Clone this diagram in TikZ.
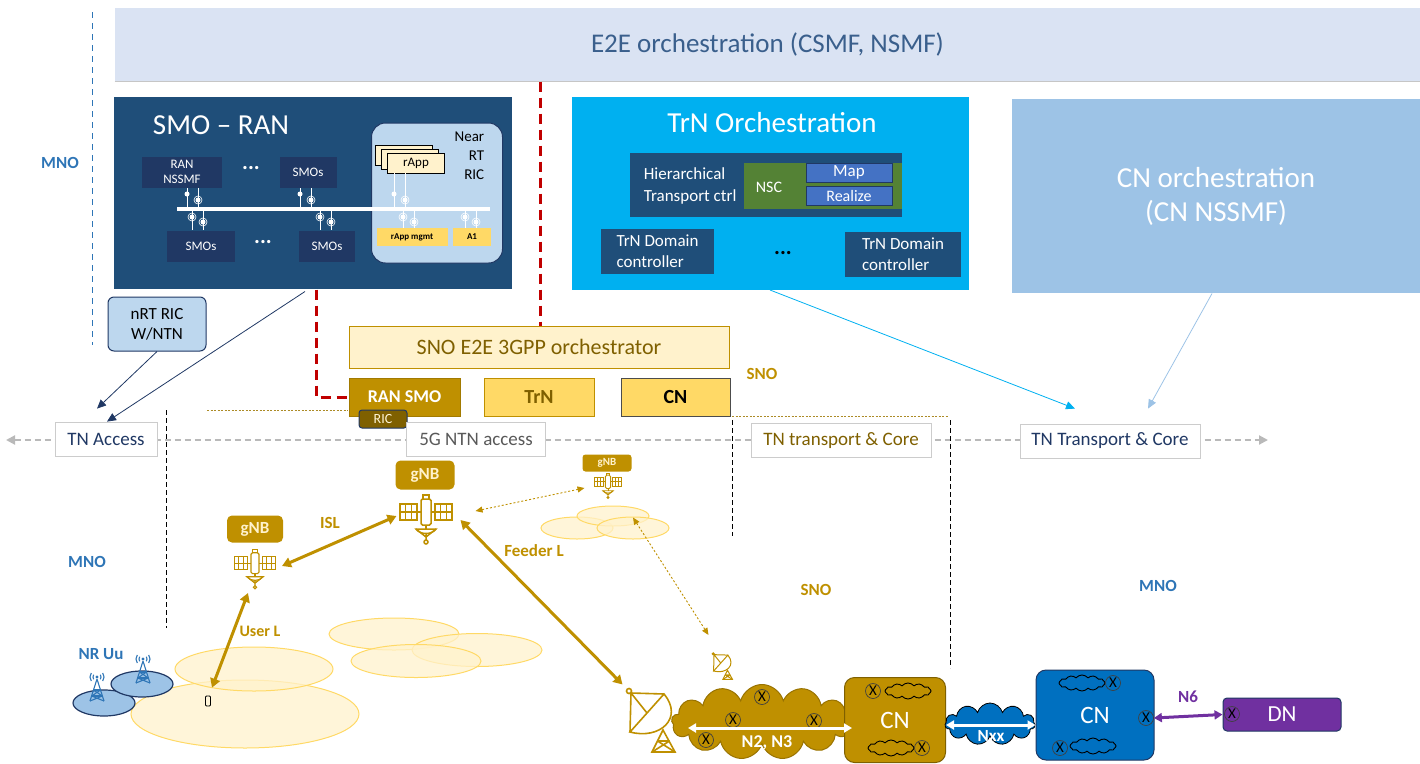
\documentclass[tikz,border=0pt]{standalone}
\usepackage{fontspec}
\setmainfont{Carlito}
\usepackage{tikz}
\usetikzlibrary{arrows.meta,positioning,calc,shapes.geometric,shapes.symbols}

\definecolor{e2ebg}{HTML}{DAE3F3}
\definecolor{e2etext}{HTML}{3A5F8C}
\definecolor{smobg}{HTML}{1F4E79}
\definecolor{smocell}{HTML}{203864}
\definecolor{ricbg}{HTML}{BDD7EE}
\definecolor{trnbg}{HTML}{00B0F0}
\definecolor{cnorchbg}{HTML}{9DC3E6}
\definecolor{gold}{HTML}{BF9000}
\definecolor{palegold}{HTML}{FFF2CC}
\definecolor{midgold}{HTML}{FFD966}
\definecolor{darkgold}{HTML}{7F6000}
\definecolor{mnoblue}{HTML}{2E75B6}
\definecolor{nscgreen}{HTML}{548235}
\definecolor{mapblue}{HTML}{4472C4}
\definecolor{cnblue}{HTML}{0070C0}
\definecolor{dnpurple}{HTML}{7030A0}
\definecolor{sigred}{HTML}{C00000}
\definecolor{navy}{HTML}{203864}

\tikzset{
  fs/.style 2 args={font=\fontsize{#1}{#2}\selectfont},
  fsb/.style 2 args={font=\fontsize{#1}{#2}\selectfont\bfseries},
  plain/.style={rectangle, inner sep=0pt, align=center},
  e2eband/.style={plain, fill=e2ebg, text=e2etext, fs={27}{30}},
  panel/.style={plain, fill=smobg, text=white},
  cell/.style={plain, fill=smocell, text=white, fs={13}{15}, minimum height=31},
  rappbox/.style={plain, fill=palegold, draw=black, line width=1pt, minimum width=57, minimum height=20, fs={13}{13}},
  ricitem/.style={plain, fill=midgold, fsb={9}{9}, minimum height=18},
  ctrlbox/.style={plain, fill=smobg, text=white, fs={17}{21}, align=left, minimum height=45},
  nscitem/.style={plain, fill=mapblue, draw=smocell, line width=1pt, text=white, minimum width=86, minimum height=19},
  snobox/.style={plain, minimum width=110, minimum height=38, line width=1pt},
  tnbox/.style={plain, fill=white, draw=gray!40, line width=0.8pt, minimum height=34, fs={19}{19}},
  domlabel/.style={fsb={17}{17}},
  dotsep/.style={fsb={22}{22}},
  footprint/.style={ellipse, inner sep=0pt, draw=midgold, line width=1pt, fill=palegold, fill opacity=0.75},
  cellzone/.style={ellipse, inner sep=0pt, draw=navy, line width=1.2pt, fill=cnorchbg},
  gnbtag/.style={plain, rounded corners=5, fill=gold, text=palegold},
  spot/.style={plain},
  xmark/.style={circle, draw=black!75, line width=0.7pt, inner sep=0pt, minimum size=15, fs={15}{15}},
  puff/.style={cloud, cloud puffs=12, cloud puff arc=100, aspect=3, draw=black, line width=0.9pt, inner sep=0pt, minimum width=46, minimum height=16},
  goldlink/.style={draw=gold, line width=3pt, <->, >={Triangle[length=9pt,width=10pt]}},
  golddots/.style={draw=gold, line width=0.9pt, dash pattern=on 2pt off 2pt, <->, >={Triangle[length=7pt,width=6pt]}},
  whitelink/.style={draw=white, line width=3pt, <->, >={Triangle[length=8pt,width=9pt]}},
  purplelink/.style={draw=dnpurple, line width=3pt, <->, >={Triangle[length=8pt,width=9pt]}},
  reddash/.style={draw=sigred, line width=3pt, dash pattern=on 10pt off 6pt},
  tnline/.style={draw=gray!55, line width=2pt, dash pattern=on 6pt off 4pt, <->, >={Triangle[length=9pt,width=9pt]}},
  sepline/.style={draw=black, line width=1pt, dash pattern=on 5pt off 3pt},
  golddotline/.style={draw=gold!70!gray, line width=0.8pt, dash pattern=on 2pt off 1.5pt},
  navyarrow/.style={draw=navy, line width=0.8pt, -{Triangle[length=9pt,width=8pt]}},
  sat/.pic={
    \draw[rounded corners=1.5pt] (-5,-19) rectangle (5,7);
    \draw (-3,-19) -- (-3,-23) -- (3,-23) -- (3,-19);
    \foreach \s in {-1,1} {
      \draw (\s*9,-14) rectangle (\s*26,2);
      \draw (\s*14.7,-14) -- (\s*14.7,2) (\s*20.3,-14) -- (\s*20.3,2) (\s*9,-6) -- (\s*26,-6);
      \draw (\s*5,-6) -- (\s*9,-6);
    }
    \draw (0,7) -- (0,11);
    \draw (-10,11) .. controls (-6,17) and (6,17) .. (10,11) -- cycle;
    \draw (-10,11) -- (0,19) -- (10,11) (0,15) -- (0,22);
    \draw (0,24) circle (2pt);
  },
  dish/.pic={
    \draw (14,-26) .. controls (34,-2) and (10,20) .. (-20,12) -- cycle;
    \draw (-19,-27) -- (14,-26) (-19,-27) -- (-20,12) (-19,-27) -- (-3,-7);
    \draw (-21,-29) circle (2.5pt);
    \draw (13,10) -- (2,32) -- (25,32) -- cycle;
    \draw (7.5,21) -- (19.5,21) (7.5,21) -- (25,32) (19.5,21) -- (2,32);
  },
  tower/.pic={
    \draw (0,-8) -- (-7,14) (0,-8) -- (7,14);
    \draw (-3.5,3) -- (3.5,3) (-5.3,9) -- (5.3,9);
    \draw (-3.5,3) -- (5.3,9) (3.5,3) -- (-5.3,9);
    \draw (-5.3,9) -- (7,14) (5.3,9) -- (-7,14);
    \fill (0,-10) circle (1.6pt);
    \foreach \r in {4,7} {
      \draw (0,-10) ++(145:\r) arc (145:215:\r);
      \draw (0,-10) ++(35:\r) arc (35:-35:\r);
    }
  }
}

\begin{document}
\begin{tikzpicture}[x=1pt, y=-1pt, line width=1pt]
\useasboundingbox (0,0) rectangle (1420,763);

% top band
\node[e2eband, minimum width=1305, minimum height=73] (e2e) at (767.5,44.5) {E2E orchestration (CSMF, NSMF)};
\draw[gray!45, line width=1.5pt] (e2e.south west) -- (e2e.south east);
\draw[mnoblue, line width=1pt, dash pattern=on 6pt off 5pt] (92,12) -- (92,345);

% SMO - RAN
\node[panel, minimum width=398, minimum height=192] (smoran) at (313,193) {};
\node[fs={29}{32}, text=white] (smotitle) at (221,125) {SMO -- RAN};
\node[cell, minimum width=80] (ranssmf) at (182,172) {RAN\\NSSMF};
\node[cell, minimum width=57] (smotop) at (308,172) {SMOs};
\node[cell, minimum width=68] (smobot1) at (201,246) {SMOs};
\node[cell, minimum width=56] (smobot2) at (327,246) {SMOs};
\node[dotsep, text=white] (dots1) at (251,168) {...};
\node[dotsep, text=white] (dots2) at (263,242) {...};
\node[plain, rounded corners=14, fill=ricbg, draw=smocell, minimum width=131, minimum height=140] (nearric) at (437,193) {};
\node[anchor=north east, align=right, fs={15}{19}] (nearlbl) at (488,128) {Near\\RT\\RIC};
\foreach \k in {2,1} {
  \node[rappbox] (rapp\k) at (416-5.8*\k,163-3.8*\k) {};
}
\node[rappbox] (rapp) at (416,163) {rApp};
\node[ricitem, minimum width=71] (rappmgmt) at (412,237) {rApp mgmt};
\node[ricitem, minimum width=38] (aone) at (472,237) {A1};
\draw[white, line width=4pt] (177,209) -- (490,209);
\foreach \px/\py in {187/188, 300/188, 394/173} {
  \draw[white, line width=0.8pt] (\px,\py) -- (\px,207) (\px+11,\py) -- (\px+11,207);
  \fill[white] (\px,194) circle (2.5pt) (\px+11,200) circle (2.5pt);
  \draw[white, line width=0.6pt] (\px+11,200) circle (4pt);
}
\foreach \px/\py in {192/230, 320/230, 403/228, 465/228} {
  \draw[white, line width=0.8pt] (\px,211) -- (\px,\py) (\px+11,211) -- (\px+11,\py);
  \fill[white] (\px,217) circle (2.5pt) (\px+11,222) circle (2.5pt);
  \draw[white, line width=0.6pt] (\px,217) circle (4pt) (\px+11,222) circle (4pt);
}

% TrN orchestration
\node[plain, fill=trnbg, minimum width=397, minimum height=193] (trnorch) at (770,193) {};
\node[fs={29}{32}, text=white] (trntitle) at (772,123) {TrN Orchestration};
\node[plain, fill=smobg, minimum width=272, minimum height=64] (hier) at (766,185) {};
\node[anchor=west, align=left, text=white, fs={17}{22}] (hiertext) at (640,186) {Hierarchical\\Transport ctrl};
\node[plain, fill=nscgreen, minimum width=158, minimum height=46] (nsc) at (823,186) {};
\node[text=white, fs={16}{16}] (nsctext) at (769,187) {NSC};
\node[nscitem, fs={17}{17}] (map) at (849,172.5) {Map};
\node[nscitem, fs={16}{16}] (realize) at (849,196) {Realize};
\node[ctrlbox, minimum width=113] (dom1) at (657.5,251.5) {TrN Domain\\controller};
\node[ctrlbox, minimum width=116] (dom2) at (903,254.5) {TrN Domain\\controller};
\node[dotsep, text=black] (dots3) at (783,253) {...};

% CN orchestration
\node[plain, fill=cnorchbg, text=white, fs={29}{34}, minimum width=408, minimum height=194] (cnorch) at (1216,196) {CN orchestration\\(CN NSSMF)};

% domain labels
\node[domlabel, text=mnoblue] (mno1) at (60,163) {MNO};
\node[domlabel, text=mnoblue] (mno2) at (87,562) {MNO};
\node[domlabel, text=mnoblue] (mno3) at (1158,586) {MNO};
\node[domlabel, text=gold] (sno1) at (762,374) {SNO};
\node[domlabel, text=gold] (sno2) at (816,590) {SNO};

\node[plain, rounded corners=6, fill=ricbg, draw=navy, minimum width=98, minimum height=54, fs={17}{20}] (nrtric) at (157,324) {nRT RIC\\W/NTN};

% SNO orchestrator
\node[plain, fill=palegold, draw=gold, text=darkgold, minimum width=380, minimum height=42, fs={22}{22}] (sno) at (539,347) {SNO E2E 3GPP orchestrator};
\node[snobox, fill=gold, draw=gold!85!black, text=white, fsb={18}{18}, minimum width=111] (ransmo) at (404.5,397) {RAN SMO};
\node[plain, rounded corners=3, fill=darkgold, draw=smocell, text=palegold!80!white, minimum width=48, minimum height=18, fs={14}{14}] (ric) at (383,419) {RIC};
\node[snobox, fill=midgold, draw=gold, text=darkgold, fsb={20}{20}] (trn) at (539,397) {TrN};
\node[snobox, fill=midgold, draw=black!70, text=black, fsb={20}{20}, minimum width=109] (cn) at (675.5,397) {CN};

\coordinate (redx) at (540,0);
\draw[reddash] (e2e.south -| redx) -- (sno.north -| redx);
\draw[reddash] ([shift={(3,0)}]smoran.south) |- (ransmo.west);

% access / transport line
\coordinate (tnleft) at (6,440);
\coordinate (tnright) at (1268,440);
\draw[tnline] (tnleft) -- (tnright);
\draw[golddotline] (207,410) -- (348,410) (732,416) -- (948,416);
\draw[sepline] (166,410) -- (166,628);
\draw[sepline] (732,420) -- (732,536);
\draw[sepline] (950,420) -- (950,668);
\node[tnbox, minimum width=102, text=navy] (tnaccess) at (106,439) {TN Access};
\node[tnbox, minimum width=139, text=black!65] (ntnaccess) at (476,439) {5G NTN access};
\node[tnbox, minimum width=180, text=darkgold] (tntrans) at (841,440.5) {TN transport \& Core};
\node[tnbox, minimum width=180, text=navy] (tntranscore) at (1110,441) {TN Transport \& Core};

\draw[navyarrow] ([shift={(-8,2)}]smoran.south) -- ([shift={(1,0)}]tnaccess.north);
\draw[navyarrow] (nrtric.south) -- ([shift={(-9,-13)}]tnaccess.north);
\draw[navyarrow, draw=trnbg] (trnorch.south) -- ([shift={(-35,-15)}]tntranscore.north);
\draw[navyarrow, draw=cnorchbg] ([shift={(-4,0)}]cnorch.south) -- ([shift={(38,-15)}]tntranscore.north);

% footprints and cells
\node[footprint, minimum width=228, minimum height=68] (fpB) at (245,714) {};
\node[footprint, minimum width=158, minimum height=44] (fpA) at (254,669) {};
\node[footprint, minimum width=130, minimum height=32] (fpE) at (394,634) {};
\node[footprint, minimum width=130, minimum height=33] (fpF) at (477,650) {};
\node[footprint, minimum width=130, minimum height=33] (fpG) at (416,661) {};
\node[footprint, minimum width=72, minimum height=22] (fpH) at (577,528) {};
\node[footprint, minimum width=72, minimum height=20] (fpI) at (613,516) {};
\node[footprint, minimum width=72, minimum height=22] (fpJ) at (633,528) {};
\node[cellzone, minimum width=62, minimum height=26] (cellC) at (104,703) {};
\node[cellzone, minimum width=62, minimum height=26] (cellD) at (142,684) {};
\pic[mnoblue, line width=1.1pt] at (97,687) {tower};
\pic[mnoblue, line width=1.1pt] at (143,669) {tower};
\node[domlabel, text=mnoblue] (nruu) at (101,654) {NR Uu};
\node[plain, draw=black, rounded corners=1, line width=0.8pt, minimum width=5, minimum height=10] (phone) at (208,701) {};

% satellites
\node[spot, minimum width=54, minimum height=49] (satB) at (426,518) {};
\node[spot, minimum width=43, minimum height=39] (satL) at (255,568) {};
\node[spot, minimum width=28, minimum height=24] (satS) at (608,485) {};
\pic[gold, line width=1.5pt] at (satB) {sat};
\pic[gold, scale=0.8, line width=1.2pt] at (satL) {sat};
\pic[gold, scale=0.52, line width=0.9pt] at (satS) {sat};
\node[gnbtag, minimum width=59, minimum height=29, fsb={17}{17}] (gnbB) at (425,475) {gNB};
\node[gnbtag, minimum width=56, minimum height=27, fsb={17}{17}] (gnbL) at (255,529) {gNB};
\node[gnbtag, rounded corners=3, minimum width=49, minimum height=17, fsb={11}{11}] (gnbS) at (607,463) {gNB};

% ground stations
\node[spot, minimum width=46, minimum height=64] (dish) at (650,720) {};
\node[spot, minimum width=20, minimum height=27] (smalldish) at (722,666) {};
\pic[gold, line width=1.6pt] at (dish) {dish};
\pic[gold, scale=0.42, line width=1pt] at (smalldish) {dish};

% radio links
\draw[goldlink] ([shift={(5,-2)}]satL.east) -- ([shift={(-2,-2)}]satB.west);
\draw[goldlink] ([shift={(4,-8)}]phone.north) -- ([shift={(-7,5)}]satL.south);
\draw[goldlink] ([shift={(7,2)}]satB.east) -- ([shift={(-4,-3)}]dish.north west);
\draw[golddots] ([shift={(22,-7)}]satB.east) -- ([shift={(-9,3)}]satS.west);
\draw[golddots] ([shift={(0,1)}]fpJ.north) -- ([shift={(-3,-17)}]smalldish.north west);
\node[domlabel, text=gold] (isl) at (330,523) {ISL};
\node[domlabel, text=gold, fsb={16}{16}] (userl) at (260,631) {User L};
\node[domlabel, text=gold] (feederl) at (534,551) {Feeder L};

% core side
\node[cloud, cloud puffs=13, aspect=2.4, fill=gold, draw=gold!80!black, inner sep=0pt, minimum width=181, minimum height=75] (gcloud) at (762,722) {};
\node[xmark] (x1) at (762,697) {X};
\node[xmark] (x2) at (733,720) {X};
\node[xmark] (x3) at (814,721) {X};
\node[xmark] (x4) at (706,740) {X};
\node[plain, rounded corners=10, fill=gold, draw=darkgold, text=white, fs={25}{25}, minimum width=101, minimum height=85] (cngold) at (895,720) {CN};
\node[puff] (cl1) at (908,691) {};
\node[xmark] (x5) at (873,691) {X};
\node[puff] (cl2) at (891,748) {};
\node[xmark] (x6) at (922,748) {X};
\draw[whitelink] ([shift={(-74,6)}]gcloud.center) -- ([shift={(8,8)}]cngold.west);
\node[text=white, fsb={18}{18}] (n23) at (767,743) {N2, N3};

\node[cloud, cloud puffs=11, aspect=2, fill=cnblue, draw=black, line width=0.8pt, inner sep=0pt, minimum width=90, minimum height=42] (nxx) at (990,724) {};
\node[plain, rounded corners=10, fill=cnblue, draw=navy, text=white, fs={25}{25}, minimum width=118, minimum height=90] (cnblue) at (1095,715) {CN};
\draw[whitelink] ([shift={(0,5)}]cngold.east) -- ([shift={(0,10)}]cnblue.west);
\node[text=white, fsb={17}{17}] (nxxlbl) at (991,736) {Nxx};
\node[puff] (cl3) at (1082,683) {};
\node[xmark] (x7) at (1113,683) {X};
\node[xmark] (x8) at (1146,718) {X};
\node[xmark] (x9) at (1060,748) {X};
\node[puff] (cl4) at (1093,746) {};

\node[plain, rounded corners=4, fill=dnpurple, draw=navy, text=white, fs={23}{23}, minimum width=118, minimum height=33] (dn) at (1282,714.5) {DN};
\node[xmark] (x10) at (1232,714) {X};
\draw[purplelink] (x8.east) -- (dn.west);
\node[domlabel, text=dnpurple] (n6) at (1188,697) {N6};
\end{tikzpicture}
\end{document}
